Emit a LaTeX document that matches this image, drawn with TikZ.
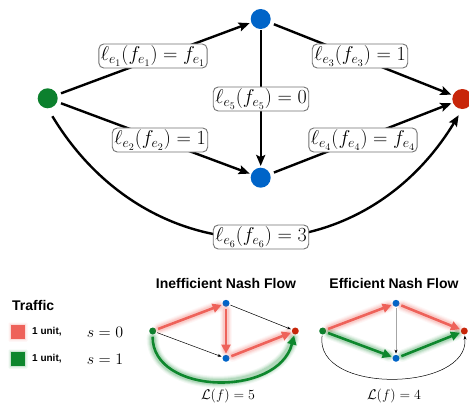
\RequirePackage{fix-cm}
\documentclass[tikz,border=0pt]{standalone}
\usepackage{fontspec}
\newfontfamily\hel{Liberation Sans}
\usetikzlibrary{arrows.meta}
\definecolor{ngreen}{RGB}{12,128,45}
\definecolor{nblue}{RGB}{0,100,200}
\definecolor{nred}{RGB}{200,38,10}
\definecolor{fred}{RGB}{238,98,90}
\definecolor{fgreen}{RGB}{14,135,45}
\newcommand\glowpath[2]{%
  \foreach \w/\o in {12/0.05,10/0.07,8/0.1,6/0.15}{%
    \draw[line width=\w pt,draw=#1,opacity=\o,line cap=round,shorten >=4pt,shorten <=3pt] #2;}%
}
\begin{document}
\begin{tikzpicture}[x=1pt,y=-1pt,
  dot/.style={circle,inner sep=0pt,minimum size=20pt},
  sdot/.style={circle,inner sep=0pt,minimum size=7pt},
  edge/.style={line width=2.4pt,-{Stealth[length=11pt,width=9pt,inset=2pt]},shorten <=4pt,shorten >=1.5pt},
  lab/.style={draw=black!55,line width=0.9pt,fill=white,rounded corners=5pt,inner sep=2pt,font=\fontsize{20}{24}\selectfont},
  thinarr/.style={line width=0.5pt,-{Stealth[length=4pt,width=3pt]},shorten >=1pt,shorten <=1pt},
  redarr/.style={line width=2.6pt,draw=fred,-{Triangle[length=9pt,width=9pt]},fill=fred,shorten >=1pt,shorten <=2pt},
  grnarr/.style={line width=2.6pt,draw=fgreen,-{Triangle[length=9pt,width=9pt]},shorten >=1pt,shorten <=2pt},
  ttl/.style={font=\hel\bfseries\fontsize{14}{16}\selectfont,inner sep=0pt},
  unit/.style={font=\hel\bfseries\fontsize{10}{12}\selectfont,inner sep=0pt},
  ]
\useasboundingbox (0,0) rectangle (469,407);
% main graph
\node[dot,fill=ngreen] (g) at (47.7,98.3) {};
\node[dot,fill=nblue] (t) at (260.7,19) {};
\node[dot,fill=nblue] (b) at (260.7,177.7) {};
\node[dot,fill=nred] (r) at (462.3,99) {};
\draw[edge] (g) -- (t);
\draw[edge] (g) -- (b);
\draw[edge] (t) -- (r);
\draw[edge] (b) -- (r);
\draw[edge,shorten <=1pt] (t) -- (b);
\draw[edge,shorten <=9pt,shorten >=7pt] (g.south) .. controls (150,278) and (360,278) .. (r.south);
\node[lab] (l1) at (153,56) {$\ell_{e_1}(f_{e_1}) = f_{e_1}$};
\node[lab] (l3) at (360,56) {$\ell_{e_3}(f_{e_3}) = 1$};
\node[lab] (l5) at (261,99) {$\ell_{e_5}(f_{e_5}) = 0$};
\node[lab] (l2) at (160,140) {$\ell_{e_2}(f_{e_2}) = 1$};
\node[lab] (l4) at (363,140) {$\ell_{e_4}(f_{e_4}) = f_{e_4}$};
\node[lab] (l6) at (261,237) {$\ell_{e_6}(f_{e_6}) = 3$};
% legend
\node[ttl,anchor=west] (traffic) at (12,305) {Traffic};
\foreach \w/\o in {2.5/0.08,1.2/0.15}{
  \fill[fred,opacity=\o,rounded corners=1pt] (11-\w,325-\w) rectangle (25+\w,339+\w);
  \fill[fgreen,opacity=\o,rounded corners=1pt] (11-\w,352-\w) rectangle (25+\w,366+\w);}
\node[fill=fred,minimum size=14pt,inner sep=0pt] (sqr) at (18,332) {};
\node[fill=fgreen,minimum size=14pt,inner sep=0pt] (sqg) at (18,359) {};
\node[unit,anchor=west] (u1) at (32,332) {1 unit,};
\node[unit,anchor=west] (u2) at (32,359) {1 unit,};
\node[font=\fontsize{16}{18}\selectfont,inner sep=0pt] (s0) at (105,332) {$s=0$};
\node[font=\fontsize{16}{18}\selectfont,inner sep=0pt] (s1) at (105,359) {$s=1$};
% inefficient
\node[ttl] (tt1) at (226,283) {Inefficient Nash Flow};
\node[sdot,fill=ngreen] (g1) at (152.7,331) {};
\node[sdot,fill=nblue] (t1) at (226,303.3) {};
\node[sdot,fill=nblue] (b1) at (226,358.3) {};
\node[sdot,fill=nred] (r1) at (295.3,331) {};
\glowpath{fgreen}{(g1) .. controls (152,395) and (278,398) .. (r1)}
\glowpath{fred}{(g1) -- (t1)}
\glowpath{fred}{(t1) -- (b1)}
\glowpath{fred}{(b1) -- (r1)}
\draw[thinarr] (t1) -- (r1);
\draw[thinarr] (g1) -- (b1);
\draw[grnarr] (g1) .. controls (152,395) and (278,398) .. (r1);
\draw[redarr] (g1) -- (t1);
\draw[redarr] (t1) -- (b1);
\draw[redarr] (b1) -- (r1);
\node[font=\fontsize{14}{16}\selectfont,inner sep=0pt] (c1) at (228,396) {$\mathcal{L}(f)=5$};
% efficient
\node[ttl] (tt2) at (394,283) {Efficient Nash Flow};
\node[sdot,fill=ngreen] (g2) at (322.7,331) {};
\node[sdot,fill=nblue] (t2) at (396,303.3) {};
\node[sdot,fill=nblue] (b2) at (396,358.3) {};
\node[sdot,fill=nred] (r2) at (464.3,331) {};
\glowpath{fred}{(g2) -- (t2)}
\glowpath{fred}{(t2) -- (r2)}
\glowpath{fgreen}{(g2) -- (b2)}
\glowpath{fgreen}{(b2) -- (r2)}
\draw[line width=0.7pt,draw=gray!70,-{Stealth[length=4pt,width=3pt,color=black]},shorten >=1pt,shorten <=1pt] (t2) -- (b2);
\draw[thinarr] (g2) .. controls (314,395) and (470,392) .. (r2);
\draw[redarr] (g2) -- (t2);
\draw[redarr] (t2) -- (r2);
\draw[grnarr] (g2) -- (b2);
\draw[grnarr] (b2) -- (r2);
\node[font=\fontsize{14}{16}\selectfont,inner sep=0pt] (c2) at (394,396) {$\mathcal{L}(f)=4$};
\end{tikzpicture}
\end{document}
